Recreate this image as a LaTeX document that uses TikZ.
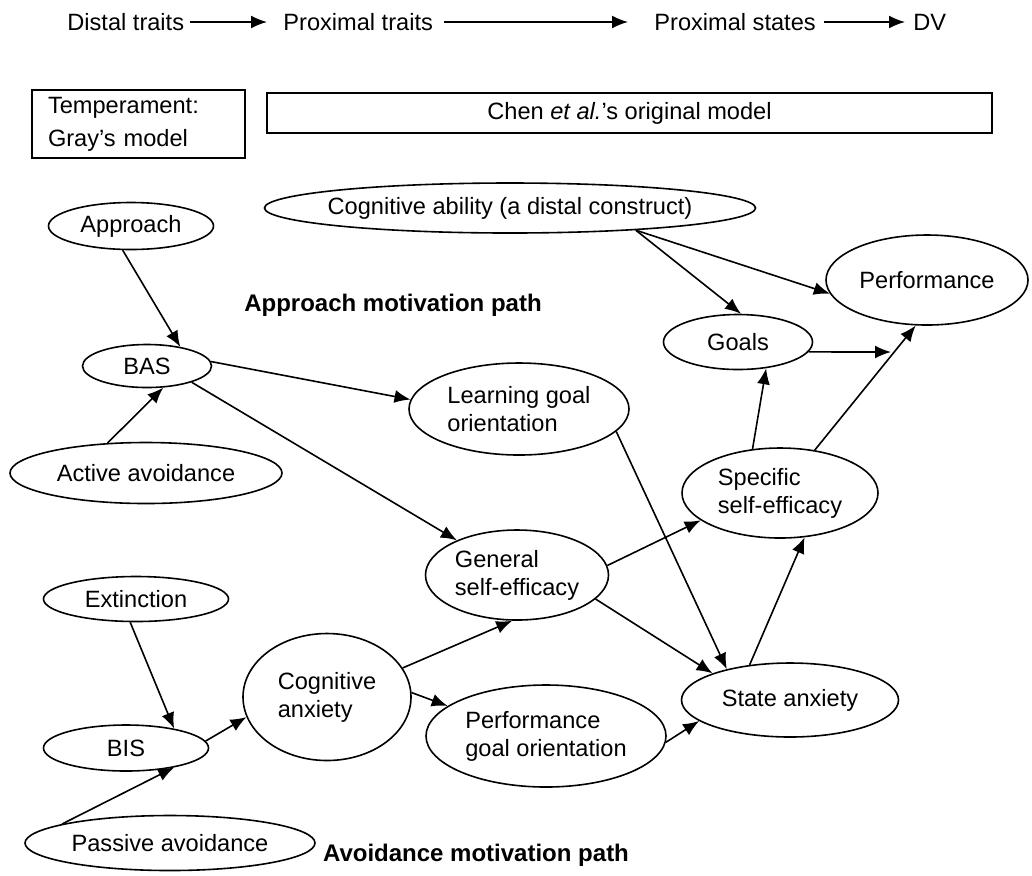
\documentclass[tikz,border=0pt]{standalone}
\usepackage{fontspec}
\setmainfont{Liberation Sans}
\usetikzlibrary{arrows.meta,shapes.geometric}
\begin{document}
\begin{tikzpicture}[x=0.5pt,y=-0.5pt,
  every node/.style={font=\fontsize{11.8}{14}\selectfont},
  el/.style={ellipse,draw,line width=0.8pt,inner sep=0pt,align=left},
  arr/.style={-{Latex[length=8pt,width=6.5pt]},line width=0.8pt},
  toptext/.style={inner sep=0pt,text height=8.5pt,text depth=0pt,anchor=west},
  box/.style={draw,line width=0.8pt,rectangle},
  pathlbl/.style={font=\fontsize{12}{14}\selectfont\bfseries}]
\useasboundingbox (0,0) rectangle (1032,875);

% top row
\node[toptext] (t1) at (67,22) {Distal traits};
\node[toptext] (t2) at (283,22) {Proximal traits};
\node[toptext] (t3) at (654,22) {Proximal states};
\node[toptext] (t4) at (913,22) {DV};
\draw[arr] ([xshift=2.5pt]t1.east) -- ([xshift=-8pt]t2.west);
\draw[arr] ([xshift=5.5pt]t2.east) -- ([xshift=-13pt]t3.west);
\draw[arr] ([xshift=4pt]t3.east) -- ([xshift=-4pt]t4.west);

% boxes
\node[box,minimum width=106.5pt,minimum height=34pt,text width=90.5pt,inner xsep=8pt,align=left,
      font=\fontsize{11.8}{16.5}\selectfont] (temp) at (138.5,124) {Temperament:\\Gray's model};
\node[box,minimum width=362.5pt,minimum height=20pt] (chen) at (629.5,113) {Chen \textit{et al.}'s original model};

% ellipses
\node[el,minimum width=82.5pt,minimum height=23.5pt] (appr) at (131,226) {Approach};
\node[el,minimum width=245.5pt,minimum height=25pt,inner xsep=-6pt] (cog) at (510,208) {Cognitive ability (a distal construct)};
\node[el,minimum width=64.5pt,minimum height=21.5pt] (bas) at (147,366) {BAS};
\node[el,minimum width=136pt,minimum height=30.5pt] (act) at (146,473) {Active avoidance};
\node[el,minimum width=110pt,minimum height=46pt] (lgo) at (519,409) {Learning goal\\orientation};
\node[el,minimum width=101pt,minimum height=45pt] (perf) at (927,280) {Performance};
\node[el,minimum width=74.5pt,minimum height=27.5pt] (goals) at (738,342) {Goals};
\node[el,minimum width=98pt,minimum height=45pt] (sse) at (780,493) {Specific\\self-efficacy};
\node[el,minimum width=91.5pt,minimum height=45pt] (gse) at (517,575) {General\\self-efficacy};
\node[el,minimum width=92.5pt,minimum height=22.5pt] (ext) at (136,599) {Extinction};
\node[el,minimum width=82.5pt,minimum height=23pt] (bis) at (126,748) {BIS};
\node[el,minimum width=84pt,minimum height=63.5pt] (ca) at (327,697) {Cognitive\\anxiety};
\node[el,minimum width=120pt,minimum height=51pt] (pgo) at (546,736) {Performance\\goal orientation};
\node[el,minimum width=108.5pt,minimum height=37pt] (sa) at (790,700) {State anxiety};
\node[el,minimum width=145pt,minimum height=27.5pt] (pas) at (170,843) {Passive avoidance};

% path labels
\node[pathlbl] (apl) at (393,305) {Approach motivation path};
\node[pathlbl] (avl) at (476,855) {Avoidance motivation path};

% connectors
\draw[arr] (appr.-109) -- (bas.30);
\draw[arr] (act.142) -- (bas.-53);
\draw[arr] (bas.4) -- (lgo.175);
\draw[arr] (bas.-20) -- (gse.150);
\draw[arr] (cog.-10) -- (goals.84);
\draw[arr] (cog.-10) -- (perf.188);
\coordinate (gp) at (891,352);
\draw[arr] (goals.-8) -- (gp);
\draw[arr] (sse.122) -- (goals.-43);
\draw[arr] (sse.51) -- (perf.-104);
\draw[arr] (lgo.-13) -- (sa.154);
\draw[arr] (gse.6) -- (sse.199);
\draw[arr] (gse.-17) -- (sa.161);
\draw[arr] (sa.139) -- (sse.-61);
\draw[arr] (ext.-104) -- (bis.22);
\draw[arr] (pas.170) -- (bis.-22);
\draw[arr] (bis.5) -- (ca.194);
\draw[arr] (ca.21) -- (gse.-96);
\draw[arr] (ca.3) -- (pgo.163);
\draw[arr] (pgo.-3) -- (sa.193);
\end{tikzpicture}
\end{document}
